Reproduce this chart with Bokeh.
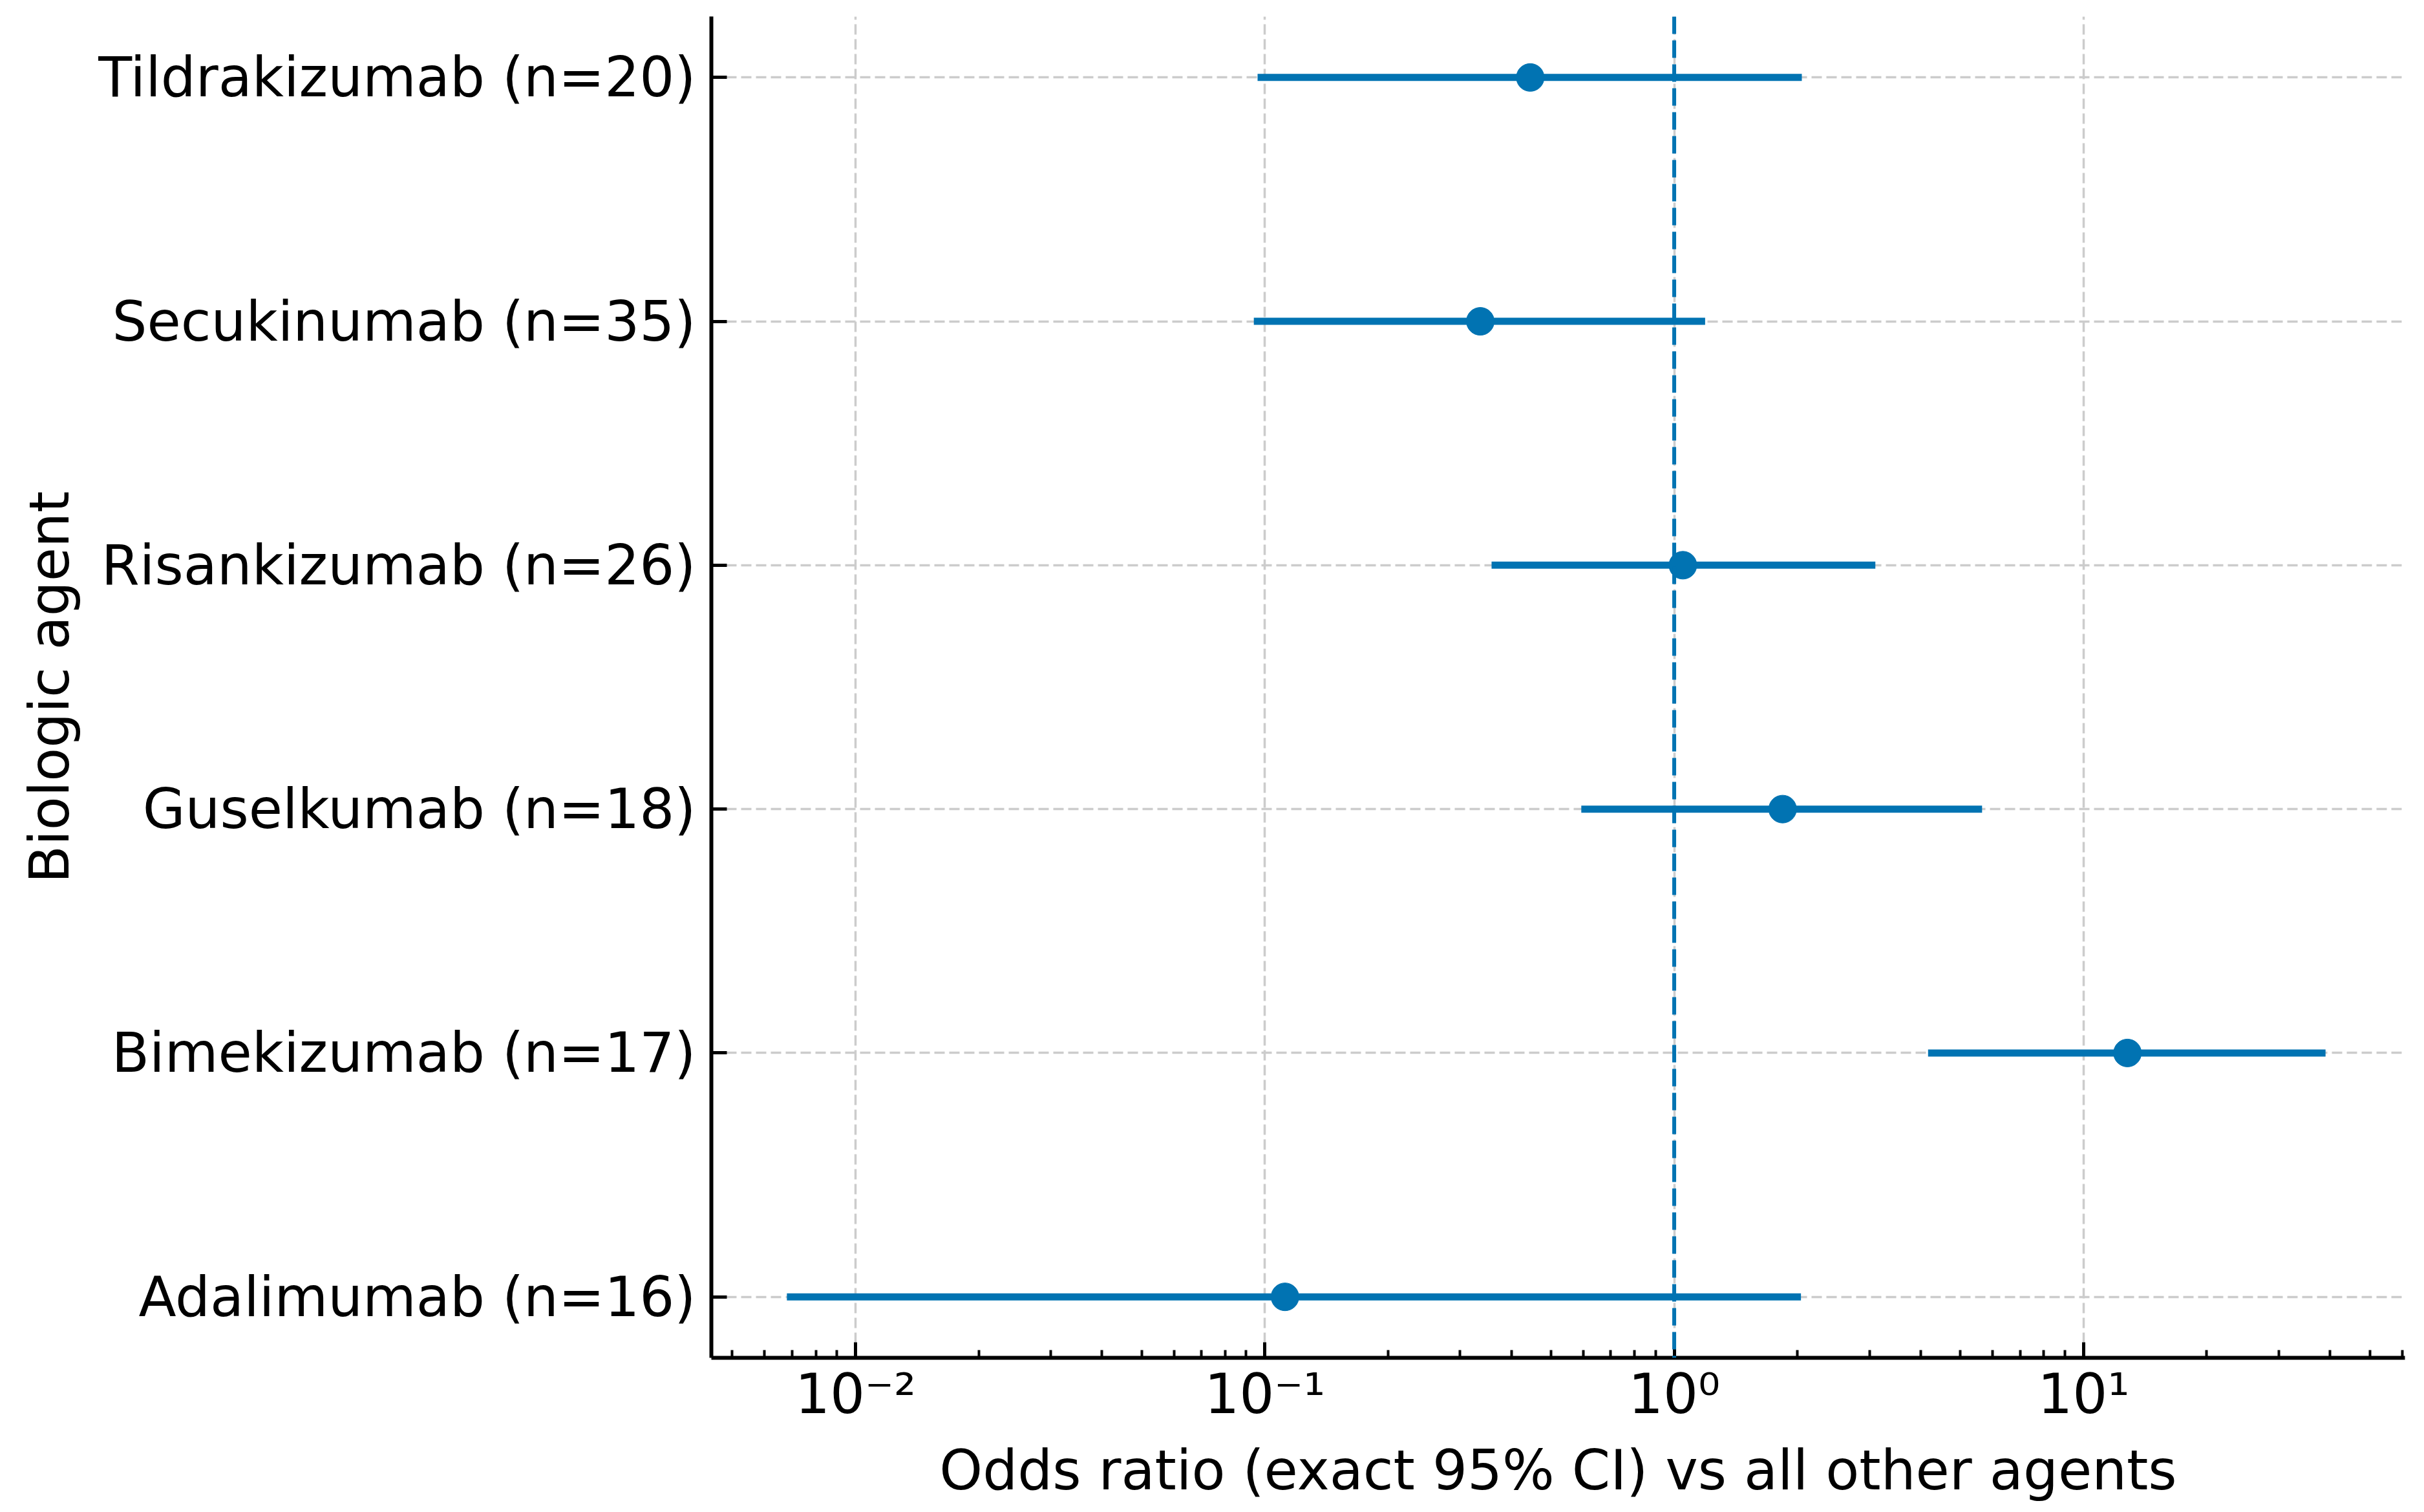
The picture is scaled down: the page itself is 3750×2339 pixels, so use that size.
from bokeh.plotting import figure
from bokeh.models import Range1d, FixedTicker, CustomJSTickFormatter, Span, ColumnDataSource
from bokeh.embed import file_html
from bokeh.resources import INLINE

# ---- data (bottom to top) ----
agents = ["Adalimumab (n=16)", "Bimekizumab (n=17)", "Guselkumab (n=18)",
          "Risankizumab (n=26)", "Secukinumab (n=35)", "Tildrakizumab (n=20)"]
odds_ratio = [0.112, 12.8, 1.84, 1.05, 0.336, 0.445]
ci_lower = [0.0068, 4.17, 0.593, 0.358, 0.094, 0.096]
ci_upper = [2.04, 39.0, 5.65, 3.10, 1.19, 2.05]
major_ticks = [0.01, 0.1, 1, 10]
minor_ticks = [m * 10.0 ** e for e in range(-3, 2) for m in range(2, 10)]

BLUE = "#0173B2"
FONT = "DejaVu Sans"
FS = "85px"

ypos = list(range(len(agents)))
src = ColumnDataSource(dict(y=ypos, orv=odds_ratio, lo=ci_lower, hi=ci_upper))

p = figure(width=3734, height=2331, x_axis_type="log",
           x_range=Range1d(10 ** -2.352, 10 ** 1.785),
           y_range=Range1d(-0.25, len(agents) - 0.75),
           output_backend="svg", toolbar_location=None,
           min_border_left=1100, min_border_right=14, min_border_top=25,
           min_border_bottom=231)
p.outline_line_color = None
p.background_fill_color = "white"
p.border_fill_color = "white"

# grids
for g in (p.xgrid, p.ygrid):
    g.grid_line_color = "#cccccc"
    g.grid_line_width = 3.5
    g.grid_line_dash = "16 7"

# reference line at OR = 1
p.add_layout(Span(location=1, dimension="height", line_color=BLUE,
                  line_width=6, line_dash="27 10"))

p.segment(x0="lo", y0="y", x1="hi", y1="y", source=src, line_color=BLUE, line_width=11)
p.scatter(x="orv", y="y", source=src, size=43, fill_color=BLUE, line_color=BLUE)

# x axis
xa = p.xaxis[0]
xa.ticker = FixedTicker(ticks=major_ticks, minor_ticks=minor_ticks)
xa.formatter = CustomJSTickFormatter(code="""
const e = Math.round(Math.log10(tick));
const sup = {'-':'\u207b','0':'\u2070','1':'\u00b9','2':'\u00b2','3':'\u00b3','4':'\u2074','5':'\u2075','6':'\u2076','7':'\u2077','8':'\u2078','9':'\u2079'};
return '10' + String(e).split('').map(c => sup[c]).join('');
""")
xa.axis_label = "Odds ratio (exact 95% CI) vs all other agents"
xa.major_label_standoff = 6
xa.axis_label_standoff = 16

# y axis
ya = p.yaxis[0]
ya.ticker = FixedTicker(ticks=ypos)
ya.major_label_overrides = {i: a for i, a in enumerate(agents)}
ya.axis_label = "Biologic agent"
ya.major_label_standoff = 24
ya.axis_label_standoff = 23
ya.minor_tick_line_color = None

for ax in (xa, ya):
    ax.axis_line_width = 6
    ax.axis_line_color = "black"
    ax.major_tick_line_width = 5
    ax.minor_tick_line_width = 4
    ax.major_tick_in = 24
    ax.major_tick_out = 0
    ax.minor_tick_in = 12
    ax.minor_tick_out = 0
    ax.major_label_text_font = FONT
    ax.major_label_text_font_size = FS
    ax.major_label_text_color = "black"
    ax.axis_label_text_font = FONT
    ax.axis_label_text_font_size = FS
    ax.axis_label_text_font_style = "normal"
    ax.axis_label_text_color = "black"

open("out.html", "w").write(file_html(p, INLINE))
